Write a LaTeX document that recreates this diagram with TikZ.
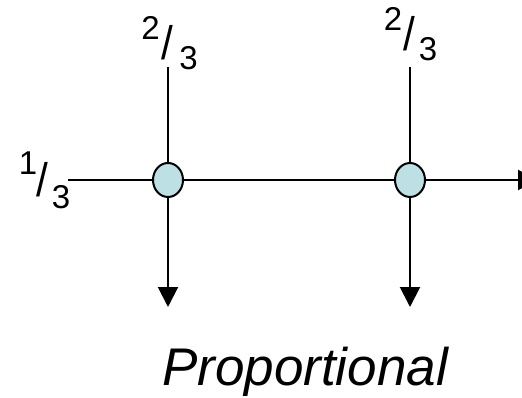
\documentclass[tikz,border=0pt]{standalone}
\usepackage{fontspec}
\setmainfont{Liberation Sans}
\usetikzlibrary{arrows.meta,shapes.geometric}
\definecolor{junc}{RGB}{188,224,228}
\tikzset{
  wire/.style={line width=2pt, black},
  arr/.style={wire, -{Triangle[length=20pt,width=20pt]}},
  junction/.style={ellipse, draw=black, line width=2pt, fill=junc, minimum width=30pt, minimum height=34pt, inner sep=0pt},
  digit/.style={inner sep=0pt, anchor=base, font=\fontsize{33}{33}\selectfont},
  slashtxt/.style={inner sep=0pt, anchor=base, font=\fontsize{47}{47}\selectfont, xscale=0.9},
  caption/.style={inner sep=0pt, anchor=base, font=\fontsize{53}{53}\selectfont\itshape}
}
\begin{document}
\begin{tikzpicture}[x=1pt,y=-1pt]
\useasboundingbox (0,0) rectangle (522,398);
\clip (0,0) rectangle (522,398);
% coordinates
\coordinate (inL) at (68,180);
\coordinate (outR) at (538,180);
\coordinate (topA) at (168,67);
\coordinate (topB) at (410,67);
\coordinate (botA) at (168,307);
\coordinate (botB) at (410,307);
\coordinate (jA) at (168,180);
\coordinate (jB) at (410,180);
% wires
\draw[wire] (inL) -- (jA) -- (jB);
\draw[arr] (jB) -- (outR);
\draw[wire] (topA) -- (jA);
\draw[wire] (topB) -- (jB);
\draw[arr] (jA) -- (botA);
\draw[arr] (jB) -- (botB);
% junctions
\node[junction] (A) at (jA) {};
\node[junction] (B) at (jB) {};
% labels
\node[digit] (a2) at (150.5,40) {2};
\node[slashtxt] (as) at (167.5,60) {/};
\node[digit] (a3) at (188.5,70) {3};
\node[digit] (b2) at (393,31) {2};
\node[slashtxt] (bs) at (409,51) {/};
\node[digit] (b3) at (428,61) {3};
\node[digit] (c1) at (28,175) {1};
\node[slashtxt] (cs) at (42.5,197) {/};
\node[digit] (c3) at (61,208) {3};
\node[caption] (cap) at (305,385) {Proportional};
\end{tikzpicture}
\end{document}
